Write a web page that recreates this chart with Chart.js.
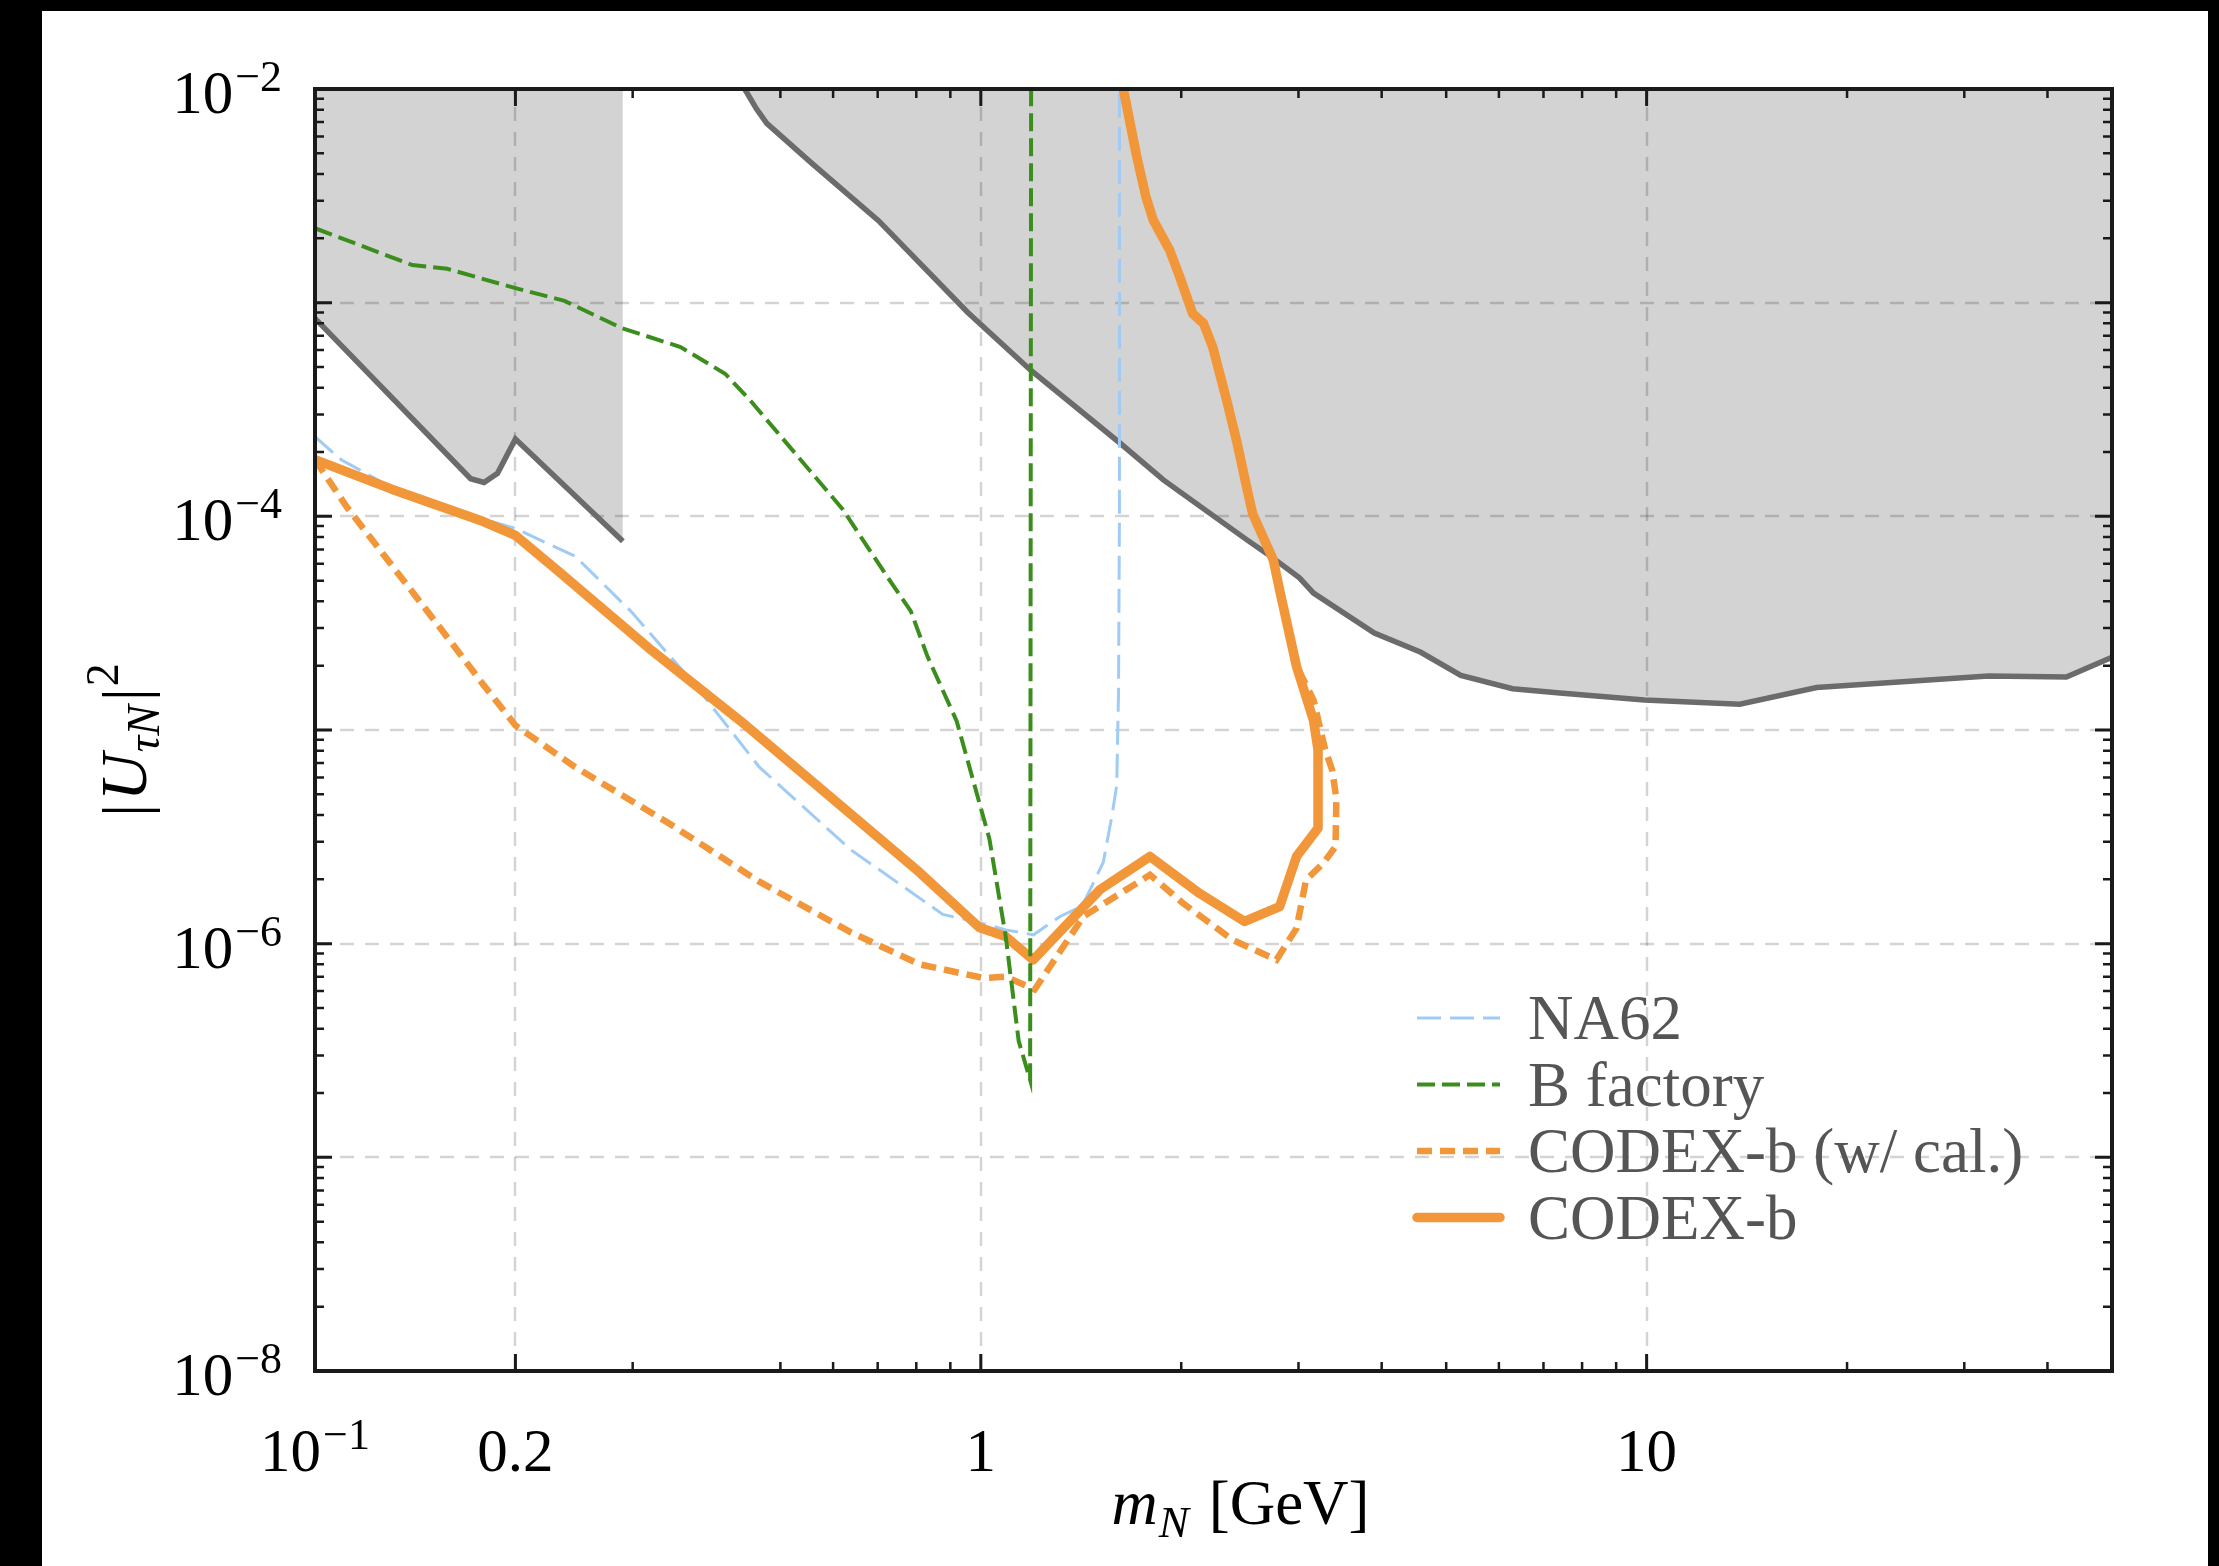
<!DOCTYPE html>
<html>
<head>
<meta charset="utf-8">
<script src="https://cdn.jsdelivr.net/npm/chart.js@4.4.1/dist/chart.umd.min.js"></script>
<style>
  html, body { margin: 0; padding: 0; background: #000; }
  body { width: 2219px; height: 1566px; position: relative; overflow: hidden; }
  #wrap { position: absolute; left: 42px; top: 11px; width: 2166px; height: 1555px; background: #fff; }
  canvas { display: block; }
</style>
</head>
<body>
<div id="wrap"><canvas id="grafico" width="2166" height="1555"></canvas></div>
<script>
// Limites existentes (regiao cinza)
const limBaixoX = [0.1, 0.1713, 0.1794, 0.188, 0.2, 0.29]
const limBaixoY = [8.45e-4, 1.5e-4, 1.44e-4, 1.59e-4, 2.3e-4, 7.64e-5]

const limX = [0.442, 0.46, 0.477, 0.557, 0.702, 0.956, 1.187, 1.616, 1.88, 2.51, 2.69, 3.01, 3.16, 3.9, 4.58, 5.26, 6.29, 7.41, 9.92, 13.8, 18.0, 32.6, 42.7, 50]
const limY = [1e-2, 8.1e-3, 6.9e-3, 4.5e-3, 2.42e-3, 9.0e-4, 4.84e-4, 2.21e-4, 1.48e-4, 7.76e-5, 6.69e-5, 5.15e-5, 4.37e-5, 2.84e-5, 2.31e-5, 1.8e-5, 1.56e-5, 1.49e-5, 1.38e-5, 1.32e-5, 1.58e-5, 1.79e-5, 1.77e-5, 2.19e-5]

// NA62
const na62X = [0.1, 0.1095, 0.13, 0.179, 0.2, 0.246, 0.298, 0.372, 0.465, 0.638, 0.877, 1.0, 1.09, 1.2, 1.315, 1.42, 1.527, 1.573, 1.6, 1.61, 1.615, 1.615]
const na62Y = [2.36e-4, 1.84e-4, 1.37e-4, 9.7e-5, 8.77e-5, 6.5e-5, 3.6e-5, 1.63e-5, 6.7e-6, 2.75e-6, 1.37e-6, 1.25e-6, 1.16e-6, 1.1e-6, 1.34e-6, 1.5e-6, 2.4e-6, 3.93e-6, 5.5e-6, 1.5e-5, 1e-4, 1e-2]

// B factory
const bfabX = [0.1, 0.14, 0.158, 0.2, 0.237, 0.289, 0.354, 0.413, 0.45, 0.516, 0.62, 0.724, 0.785, 0.832, 0.92, 1.03, 1.09, 1.14, 1.186, 1.19]
const bfabY = [2.23e-3, 1.5e-3, 1.44e-3, 1.17e-3, 1.02e-3, 7.6e-4, 6.2e-4, 4.65e-4, 3.5e-4, 2.12e-4, 1.08e-4, 5.2e-5, 3.6e-5, 2.2e-5, 1.1e-5, 3.1e-6, 1.08e-6, 3.5e-7, 2.3e-7, 1e-2]

// CODEX-b (w/ cal.)
const calX = [0.1, 0.1113, 0.1304, 0.153, 0.179, 0.2, 0.246, 0.338, 0.465, 0.638, 0.81, 1.01, 1.09, 1.205, 1.27, 1.426, 1.795, 2.01, 2.39, 2.78, 2.98, 3.08, 3.27, 3.41, 3.42, 3.37, 3.29, 3.16, 2.98, 2.81, 2.75, 2.56, 2.52, 2.42, 2.34, 2.23, 2.16, 2.08, 1.99, 1.92, 1.815, 1.77, 1.715, 1.637]
const calY = [1.84e-4, 1.12e-4, 5.9e-5, 3.1e-5, 1.63e-5, 1.05e-5, 6.7e-6, 3.7e-6, 1.95e-6, 1.13e-6, 8.0e-7, 6.9e-7, 7.0e-7, 6.1e-7, 7.8e-7, 1.34e-6, 2.1e-6, 1.55e-6, 1.04e-6, 8.4e-7, 1.18e-6, 1.99e-6, 2.38e-6, 2.85e-6, 4.8e-6, 6.5e-6, 8.1e-6, 1.38e-5, 2.0e-5, 4.53e-5, 6.25e-5, 1.03e-4, 1.28e-4, 2.28e-4, 3.5e-4, 6.2e-4, 8.0e-4, 8.9e-4, 1.32e-3, 1.77e-3, 2.44e-3, 3.13e-3, 4.82e-3, 1e-2]

// CODEX-b
const codexX = [0.1, 0.1304, 0.179, 0.2, 0.231, 0.317, 0.436, 0.589, 0.81, 0.995, 1.09, 1.199, 1.51, 1.795, 2.13, 2.49, 2.81, 2.98, 3.21, 3.21, 3.16, 2.98, 2.81, 2.75, 2.56, 2.52, 2.42, 2.34, 2.23, 2.16, 2.08, 1.99, 1.92, 1.815, 1.77, 1.715, 1.637]
const codexY = [1.84e-4, 1.34e-4, 9.45e-5, 8.15e-5, 5.6e-5, 2.42e-5, 1.1e-5, 4.98e-6, 2.15e-6, 1.19e-6, 1.08e-6, 8.4e-7, 1.79e-6, 2.56e-6, 1.72e-6, 1.27e-6, 1.49e-6, 2.56e-6, 3.47e-6, 8.07e-6, 1.11e-5, 1.98e-5, 4.53e-5, 6.25e-5, 1.03e-4, 1.28e-4, 2.28e-4, 3.5e-4, 6.2e-4, 8.0e-4, 8.9e-4, 1.32e-3, 1.77e-3, 2.44e-3, 3.13e-3, 4.82e-3, 1e-2]

// Eixos
const xTicks = [0.1, 0.2, 1, 10]
const xTickText = ['10^−1', '0.2', '1', '10']
const yTicks = [1e-2, 1e-4, 1e-6, 1e-8]
const yTickText = ['10^−2', '10^−4', '10^−6', '10^−8']
const xGrade = [0.2, 1, 10]
const yGrade = [1e-7, 1e-6, 1e-5, 1e-4, 1e-3]
const xMaiores = [0.2, 1, 10]
const xMenores = [0.3, 0.5, 0.6, 0.7, 0.8, 0.9, 2, 3, 4, 5, 6, 7, 8, 9, 20, 30, 40]

const SERIF = "'Liberation Serif', 'Times New Roman', serif"
const LARANJA = '#f2963a'

function pts(xs, ys) {
  return xs.map((x, i) => ({ x, y: ys[i] }))
}

function desenharRotulo(ctx, texto, x, y, alinhar) {
  const [base, exp] = texto.split('^')
  ctx.font = `61px ${SERIF}`
  const wb = ctx.measureText(base).width
  let we = 0
  if (exp) {
    ctx.font = `44px ${SERIF}`
    we = ctx.measureText(exp).width + 2
  }
  const w = wb + we
  const x0 = alinhar === 'right' ? x - w : x - w / 2
  ctx.textAlign = 'left'
  ctx.textBaseline = 'alphabetic'
  ctx.fillStyle = '#000'
  ctx.font = `61px ${SERIF}`
  ctx.fillText(base, x0, y)
  if (exp) {
    ctx.font = `44px ${SERIF}`
    ctx.fillText(exp, x0 + wb + 2, y - 22)
  }
}

// desenha pedacos de texto em sequencia: [texto, fonte, deslocamento vertical, espaco extra]
function desenharPartes(ctx, partes, x, y, centro) {
  let w = 0
  partes.forEach(p => { ctx.font = p[1]; w += ctx.measureText(p[0]).width + (p[3] || 0) })
  let cx = centro ? x - w / 2 : x
  ctx.textAlign = 'left'
  ctx.textBaseline = 'alphabetic'
  partes.forEach(p => {
    ctx.font = p[1]
    ctx.fillText(p[0], cx, y + p[2])
    cx += ctx.measureText(p[0]).width + (p[3] || 0)
  })
}

const decoracao = {
  id: 'decoracao',
  beforeDatasetsDraw(chart) {
    const { ctx, chartArea: a, scales: { x, y } } = chart
    ctx.save()
    ctx.beginPath()
    ctx.rect(a.left, a.top, a.width, a.height)
    ctx.clip()
    ctx.strokeStyle = 'rgba(0,0,0,0.17)'
    ctx.lineWidth = 2.5
    ctx.setLineDash([14, 11])
    xGrade.forEach(v => {
      const px = Math.round(x.getPixelForValue(v))
      ctx.beginPath(); ctx.moveTo(px, a.bottom); ctx.lineTo(px, a.top); ctx.stroke()
    })
    yGrade.forEach(v => {
      const py = Math.round(y.getPixelForValue(v))
      ctx.beginPath(); ctx.moveTo(a.left, py); ctx.lineTo(a.right, py); ctx.stroke()
    })
    ctx.restore()
  },
  afterDatasetsDraw(chart) {
    const { ctx, chartArea: a, scales: { x, y } } = chart
    ctx.save()
    ctx.setLineDash([])

    // ticks para dentro, nos quatro lados
    ctx.strokeStyle = '#1a1a1a'
    const marca = (lista, len, lw) => {
      ctx.lineWidth = lw
      lista.forEach(v => {
        const px = x.getPixelForValue(v)
        ctx.beginPath()
        ctx.moveTo(px, a.bottom); ctx.lineTo(px, a.bottom - len)
        ctx.moveTo(px, a.top); ctx.lineTo(px, a.top + len)
        ctx.stroke()
      })
    }
    marca(xMaiores, 17, 3)
    marca(xMenores, 9, 2.5)
    for (let d = -8; d <= -2; d++) {
      const vals = [[Math.pow(10, d), 17, 3]]
      if (d < -2) for (let m = 2; m <= 9; m++) vals.push([m * Math.pow(10, d), 9, 2.5])
      vals.forEach(([v, len, lw]) => {
        const py = y.getPixelForValue(v)
        ctx.lineWidth = lw
        ctx.beginPath()
        ctx.moveTo(a.left, py); ctx.lineTo(a.left + len, py)
        ctx.moveTo(a.right, py); ctx.lineTo(a.right - len, py)
        ctx.stroke()
      })
    }

    // moldura
    ctx.lineWidth = 4
    ctx.strokeRect(a.left, a.top, a.right - a.left, a.bottom - a.top)

    // rotulos dos eixos
    yTicks.forEach((v, i) => desenharRotulo(ctx, yTickText[i], a.left - 33, y.getPixelForValue(v) + 24, 'right'))
    xTicks.forEach((v, i) => desenharRotulo(ctx, xTickText[i], x.getPixelForValue(v), a.bottom + 100, 'center'))

    // titulos
    ctx.fillStyle = '#000'
    desenharPartes(ctx, [
      ['m', `italic 64px ${SERIF}`, 0, 1],
      ['N', `italic 45px ${SERIF}`, 13, 20],
      ['[GeV]', `63px ${SERIF}`, 0]
    ], (a.left + a.right) / 2 + 27, a.bottom + 153, true)

    ctx.save()
    ctx.translate(104, (a.top + a.bottom) / 2 + 10)
    ctx.rotate(-Math.PI / 2)
    desenharPartes(ctx, [
      ['|', `64px ${SERIF}`, 0, 3],
      ['U', `italic 66px ${SERIF}`, 0, 1],
      ['τN', `italic 46px ${SERIF}`, 13, 4],
      ['|', `64px ${SERIF}`, 0, 2],
      ['2', `46px ${SERIF}`, -28]
    ], 0, 0, true)
    ctx.restore()

    // legenda
    const itens = chart.data.datasets.filter(ds => ds.naLegenda)
    const lx = a.left + 1102
    itens.forEach((ds, i) => {
      const ly = a.top + 929 + i * 66.5
      ctx.strokeStyle = ds.borderColor
      ctx.lineWidth = ds.borderWidth
      ctx.lineCap = ds.borderDash ? 'butt' : 'round'
      ctx.setLineDash(ds.borderDash || [])
      ctx.beginPath(); ctx.moveTo(lx, ly); ctx.lineTo(lx + 83, ly); ctx.stroke()
      ctx.setLineDash([])
      ctx.fillStyle = '#555'
      ctx.font = `63px ${SERIF}`
      ctx.textAlign = 'left'
      ctx.textBaseline = 'alphabetic'
      ctx.fillText(ds.label, lx + 111, ly + 21)
    })
    ctx.restore()
  }
}

new Chart(document.getElementById('grafico'), {
  type: 'line',
  data: {
    datasets: [
      {
        label: 'limites baixos',
        data: pts(limBaixoX, limBaixoY),
        borderColor: '#6b6b6b', borderWidth: 5.5,
        backgroundColor: '#d3d3d3', fill: 'end', order: 6
      },
      {
        label: 'limites',
        data: pts(limX, limY),
        borderColor: '#6b6b6b', borderWidth: 5.5,
        backgroundColor: '#d3d3d3', fill: 'end', order: 5
      },
      {
        label: 'NA62',
        data: pts(na62X, na62Y),
        borderColor: '#9fcbf5', borderWidth: 3, borderDash: [24, 9],
        fill: false, order: 4, naLegenda: true
      },
      {
        label: 'B factory',
        data: pts(bfabX, bfabY),
        borderColor: '#3b8e1d', borderWidth: 4, borderDash: [18, 7],
        fill: false, order: 0, naLegenda: true
      },
      {
        label: 'CODEX-b (w/ cal.)',
        data: pts(calX, calY),
        borderColor: LARANJA, borderWidth: 6.5, borderDash: [15, 8],
        fill: false, order: 2, naLegenda: true
      },
      {
        label: 'CODEX-b',
        data: pts(codexX, codexY),
        borderColor: LARANJA, borderWidth: 9.5,
        borderJoinStyle: 'round', borderCapStyle: 'round',
        fill: false, order: 1, naLegenda: true
      }
    ]
  },
  options: {
    responsive: false,
    animation: false,
    devicePixelRatio: 1,
    layout: { padding: { top: 78, right: 96, left: 0, bottom: 0 } },
    elements: { point: { radius: 0, hoverRadius: 0 }, line: { tension: 0 } },
    plugins: {
      legend: { display: false },
      tooltip: { enabled: false },
      filler: { drawTime: 'beforeDatasetsDraw' }
    },
    scales: {
      x: {
        type: 'logarithmic', min: 0.1, max: 50,
        grid: { display: false }, border: { display: false },
        ticks: { display: false },
        afterFit: s => { s.height = 195 }
      },
      y: {
        type: 'logarithmic', min: 1e-8, max: 1e-2,
        grid: { display: false }, border: { display: false },
        ticks: { display: false },
        afterFit: s => { s.width = 273 }
      }
    }
  },
  plugins: [decoracao]
})
</script>
</body>
</html>
